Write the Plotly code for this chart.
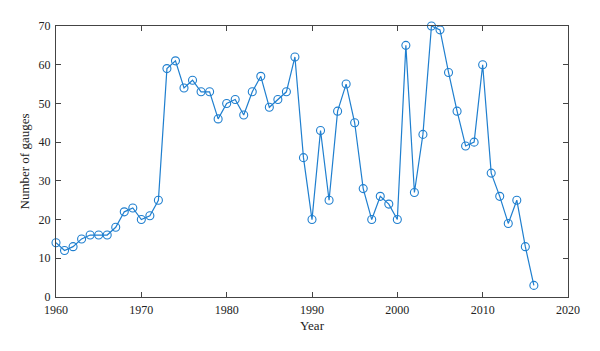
import plotly.graph_objects as go

years = list(range(1960, 2017))
gauges = [14, 12, 13, 15, 16, 16, 16, 18, 22, 23, 20, 21, 25, 59, 61, 54, 56, 53, 53, 46,
          50, 51, 47, 53, 57, 49, 51, 53, 62, 36, 20, 43, 25, 48, 55, 45, 28, 20, 26, 24,
          20, 65, 27, 42, 70, 69, 58, 48, 39, 40, 60, 32, 26, 19, 25, 13, 3]
x_ticks = [1960, 1970, 1980, 1990, 2000, 2010, 2020]
y_ticks = [0, 10, 20, 30, 40, 50, 60, 70]

color = "#1f7fcf"
fig = go.Figure(go.Scatter(
    x=years, y=gauges, mode="lines+markers",
    line=dict(color=color, width=1.2),
    marker=dict(symbol="circle-open", size=8, color=color, line=dict(width=1.1)),
    cliponaxis=False,
))
axis_common = dict(showline=True, linecolor="#444", linewidth=1, mirror="ticks",
                   ticks="inside", ticklen=5, tickcolor="#444", showgrid=False,
                   zeroline=False, tickfont=dict(size=12, color="#222"))
fig.update_layout(
    width=600, height=351,
    margin=dict(l=56, r=32, t=26, b=54),
    paper_bgcolor="white", plot_bgcolor="white",
    font=dict(family="Liberation Serif", color="#222"),
    showlegend=False,
    xaxis=dict(range=[1960, 2020], tickvals=x_ticks, ticklabelstandoff=2,
               title=dict(text="Year", font=dict(size=13), standoff=4), **axis_common),
    yaxis=dict(range=[0, 70], tickvals=y_ticks, ticklabelstandoff=2,
               title=dict(text="Number of gauges", font=dict(size=13), standoff=6), **axis_common),
)
fig.write_html("out.html")
